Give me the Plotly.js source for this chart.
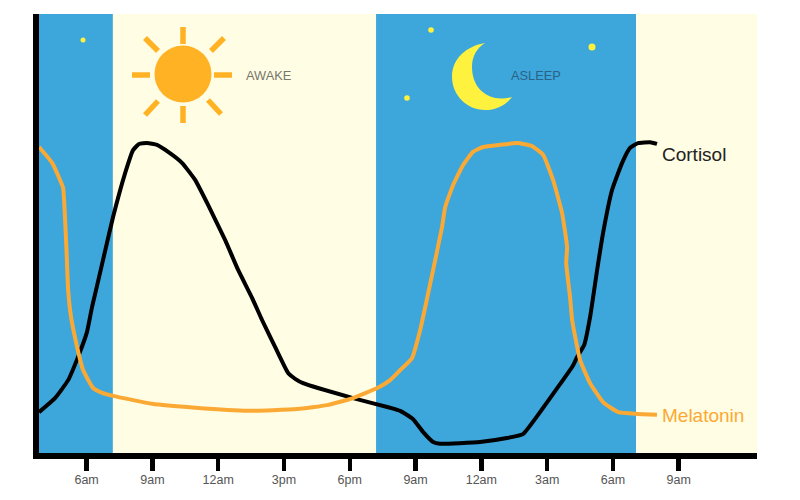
<!DOCTYPE html>
<html>
<head>
<meta charset="utf-8">
<script src="https://cdn.plot.ly/plotly-3.0.1.min.js"></script>
<style>
  html, body { margin: 0; padding: 0; background: #fff; }
  #chart { width: 800px; height: 500px; }
</style>
</head>
<body>
<div id="chart"></div>
<script>
// hours since midnight of the first day, levels in % of the y axis
var cortisolHours = [3.83, 4.56, 5.16, 5.61, 6.02, 6.25, 6.43, 6.75, 7.21, 7.76, 8.12, 8.39, 8.76, 9.21, 9.72, 10.35, 10.95, 11.54, 12.32, 12.91, 13.55, 14.00, 14.60, 15.19, 15.51, 15.87, 18.15, 19.84, 20.30, 20.89, 21.34, 21.80, 22.12, 23.94, 25.17, 25.90, 26.82, 28.19, 28.37, 28.69, 28.96, 29.28, 29.55, 29.96, 30.42, 30.78, 31.15, 31.70, 32.01];
var cortisolLevels = [9.3, 12.5, 16.6, 21.9, 27.6, 33.3, 37.1, 44.0, 53.8, 63.8, 69.0, 70.4, 70.6, 70.2, 68.6, 66.1, 62.2, 56.5, 48.5, 41.7, 35.3, 30.3, 24.1, 18.2, 16.9, 15.9, 12.5, 10.3, 9.6, 7.7, 4.8, 2.5, 2.1, 2.5, 3.4, 4.3, 10.3, 20.0, 21.9, 24.6, 31.0, 41.7, 50.1, 59.9, 66.1, 69.5, 70.6, 70.8, 70.4];
var melatoninHours = [3.83, 4.43, 4.79, 4.93, 5.07, 5.16, 5.29, 5.57, 5.84, 6.30, 6.71, 7.21, 8.99, 10.95, 13.36, 15.60, 16.97, 18.15, 19.25, 19.84, 20.30, 20.84, 21.21, 21.53, 22.21, 22.35, 22.71, 23.17, 23.62, 24.08, 24.86, 25.63, 26.31, 26.82, 27.27, 27.68, 27.91, 27.87, 28.05, 28.14, 28.50, 28.96, 29.55, 30.24, 31.10, 32.01];
var melatoninLevels = [69.7, 66.1, 62.2, 60.4, 47.8, 37.1, 31.0, 24.1, 18.9, 14.8, 13.7, 13.0, 11.2, 10.3, 9.6, 10.0, 10.9, 12.5, 14.8, 16.6, 18.9, 21.6, 28.0, 35.3, 51.5, 56.0, 61.0, 65.6, 68.6, 69.7, 70.2, 70.6, 69.9, 67.9, 62.2, 54.7, 46.9, 43.3, 35.3, 30.3, 21.2, 15.9, 11.6, 9.3, 8.9, 8.7];
var tickHours = [6, 9, 12, 15, 18, 21, 24, 27, 30, 33];
var tickLabels = ['6am', '9am', '12am', '3pm', '6pm', '9am', '12am', '3am', '6am', '9am'];
var bandEdges = [3.83, 7.2, 19.2, 31.06, 36.57];
var bandColors = ['#3DA6DB', '#FFFDE3', '#3DA6DB', '#FFFDE3'];

var plotL = 39, plotR = 757, plotT = 14, plotB = 453;
var orange = '#FBA935';

// the drawings are placed in page pixels, not in data
function px(v) { return (v - plotL) / (plotR - plotL); }
function py(v) { return (plotB - v) / (plotB - plotT); }

function ray(x0, y0, x1, y1) {
  return {
    type: 'line', xref: 'paper', yref: 'paper', layer: 'below',
    x0: px(x0), y0: py(y0), x1: px(x1), y1: py(y1),
    line: { color: '#FFB224', width: 5.5 }
  };
}
function dot(x, y, r, color) {
  return {
    type: 'circle', xref: 'paper', yref: 'paper', layer: 'below',
    x0: px(x - r), x1: px(x + r), y0: py(y + r), y1: py(y - r),
    fillcolor: color, line: { width: 0 }
  };
}
function moonPath(segs) {
  return segs.map(function (s) {
    var out = s[0];
    for (var i = 1; i < s.length; i += 2) {
      out += (i > 1 ? ' ' : '') + px(s[i]) + ',' + py(s[i + 1]);
    }
    return out;
  }).join(' ') + ' Z';
}

var shapes = [];
for (var i = 0; i < bandColors.length; i++) {
  shapes.push({
    type: 'rect', xref: 'x', yref: 'paper', layer: 'below',
    x0: bandEdges[i], x1: bandEdges[i + 1], y0: 0, y1: 1,
    fillcolor: bandColors[i], line: { width: 0 }
  });
}
shapes.push(
  dot(183, 74, 28.5, '#FFB224'),
  ray(183, 27, 183, 44), ray(183, 106, 183, 123),
  ray(132, 75, 150, 75), ray(214, 75, 232, 75),
  ray(145, 38, 158, 51), ray(224, 38, 211, 51),
  ray(158, 101, 145, 115), ray(208, 100, 221, 114),
  dot(83, 40, 2.5, '#FFF23F'), dot(431, 30, 2.8, '#FFF23F'),
  dot(592, 47, 3.5, '#FFF23F'), dot(407, 98, 2.8, '#FFF23F'),
  {
    type: 'path', xref: 'paper', yref: 'paper', layer: 'below',
    fillcolor: '#FFF23F', line: { width: 0 },
    path: moonPath([
      ['M', 485, 43],
      ['C', 467, 46, 452, 58, 452, 77],
      ['C', 452, 95, 467, 110, 485, 110],
      ['C', 496, 110, 506, 105, 512, 97],
      ['C', 490, 103, 472, 90, 472, 67],
      ['C', 472, 56, 477, 48, 485, 43]
    ])
  }
);

function label(text, x, y, size, color) {
  return {
    text: text, xref: 'paper', yref: 'paper', x: px(x), y: py(y),
    xanchor: 'center', yanchor: 'middle', showarrow: false,
    font: { family: 'Liberation Sans', size: size, color: color }
  };
}

var trace1 = {
  x: cortisolHours,
  y: cortisolLevels,
  name: 'Cortisol',
  type: 'scatter',
  mode: 'lines',
  line: { color: '#000', width: 4, shape: 'spline', smoothing: 0.4 },
  hoverinfo: 'skip'
};
var trace2 = {
  x: melatoninHours,
  y: melatoninLevels,
  name: 'Melatonin',
  type: 'scatter',
  mode: 'lines',
  line: { color: orange, width: 4, shape: 'spline', smoothing: 0.4 },
  hoverinfo: 'skip'
};
var data = [trace1, trace2];
var layout = {
  width: 800,
  height: 500,
  margin: { l: plotL, r: 800 - plotR, t: plotT, b: 500 - plotB, pad: 0 },
  paper_bgcolor: '#fff',
  plot_bgcolor: '#fff',
  showlegend: false,
  shapes: shapes,
  annotations: [
    label('AWAKE', 268, 76, 12.8, '#77776C'),
    label('ASLEEP', 536, 76, 12.8, '#2A6387'),
    label('Cortisol', 693.5, 154, 19, '#222'),
    label('Melatonin', 703, 415, 19, '#FBA935')
  ],
  xaxis: {
    range: [bandEdges[0], bandEdges[4]],
    tickmode: 'array',
    tickvals: tickHours,
    ticktext: tickLabels,
    ticks: 'outside',
    ticklen: 12,
    tickwidth: 4.5,
    tickcolor: '#000',
    ticklabelstandoff: -2,
    tickfont: { family: 'Liberation Sans', size: 12.5, color: '#555' },
    showgrid: false,
    zeroline: false,
    showline: true,
    linecolor: '#000',
    linewidth: 5.5
  },
  yaxis: {
    range: [0, 100],
    showticklabels: false,
    ticks: '',
    showgrid: false,
    zeroline: false,
    showline: true,
    linecolor: '#000',
    linewidth: 6
  }
};
Plotly.newPlot('chart', data, layout, { displayModeBar: false, staticPlot: true });
</script>
</body>
</html>
